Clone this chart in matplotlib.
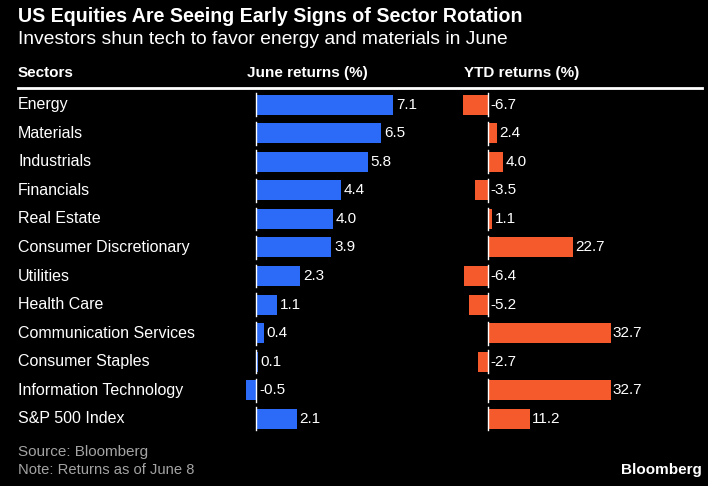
import matplotlib
matplotlib.use('Agg')
import matplotlib.pyplot as plt
from matplotlib.transforms import blended_transform_factory

# 数据
sectors = ['Energy', 'Materials', 'Industrials', 'Financials', 'Real Estate',
           'Consumer Discretionary', 'Utilities', 'Health Care',
           'Communication Services', 'Consumer Staples',
           'Information Technology', 'S&P 500 Index']
june_returns = [7.1, 6.5, 5.8, 4.4, 4.0, 3.9, 2.3, 1.1, 0.4, 0.1, -0.5, 2.1]
ytd_returns = [-6.7, 2.4, 4.0, -3.5, 1.1, 22.7, -6.4, -5.2, 32.7, -2.7, 32.7, 11.2]

BLUE = '#2b6bf7'
ORANGE = '#f45a2c'
GREY = '#a3a3a3'
W, H = 708, 486

plt.rcParams['font.family'] = ['Liberation Sans', 'DejaVu Sans']
fig = plt.figure(figsize=(W / 100, H / 100), dpi=100, facecolor='black')


def fx(px):
    return px / W


def fy(py):
    return 1 - py / H


# 标题
fig.text(fx(18), fy(17), 'US Equities Are Seeing Early Signs of Sector Rotation',
         color='white', fontsize=14.1, fontweight='bold', va='center')
fig.text(fx(18), fy(40), 'Investors shun tech to favor energy and materials in June',
         color='white', fontsize=13.85, va='center')

# 表头
for x, t in [(18, 'Sectors'), (247, 'June returns (%)'), (464, 'YTD returns (%)')]:
    fig.text(fx(x), fy(73), t, color='white', fontsize=11, fontweight='bold', va='center')
fig.add_artist(plt.Line2D([fx(18), fx(702)], [fy(88), fy(88)], color='white', lw=2,
                          transform=fig.transFigure))

# 坐标轴位置 (像素)
row_top, row_bot = 90.5, 433
n = len(sectors)


def make_ax(left_px, width_px, xmin, xmax):
    ax = fig.add_axes([fx(left_px), fy(row_bot), width_px / W, (row_bot - row_top) / H])
    ax.set_xlim(xmin, xmax)
    ax.set_ylim(n - 0.5, -0.5)
    ax.axis('off')
    return ax


ax1 = make_ax(236.7, 200, -1.0, -1.0 + 200 / 19.3)
ax2 = make_ax(458, 240, -8.0, -8.0 + 240 / 3.75)

for ax, vals, color, pad in [(ax1, june_returns, BLUE, 0.15), (ax2, ytd_returns, ORANGE, 0.6)]:
    ys = range(n)
    ax.barh(ys, vals, height=0.7, color=color)
    for y, v in zip(ys, vals):
        ax.plot([0, 0], [y - 0.4, y + 0.4], color='white', lw=1)
        x = max(v, 0) + pad
        ax.text(x, y, f'{v:.1f}', color='white', fontsize=11, va='center', ha='left')

# 行标签
tr = blended_transform_factory(fig.transFigure, ax1.transData)
for i, s in enumerate(sectors):
    ax1.text(fx(18), i, s, transform=tr, color='white', fontsize=11.5, va='center', ha='left')

# 脚注
fig.text(fx(18), fy(452), 'Source: Bloomberg', color=GREY, fontsize=11, va='center')
fig.text(fx(18), fy(470), 'Note: Returns as of June 8', color=GREY, fontsize=10.6, va='center')
fig.text(fx(702), fy(470), 'Bloomberg', color='white', fontsize=11, fontweight='bold',
         ha='right', va='center')

fig.savefig('out.png', dpi=100, facecolor='black')
